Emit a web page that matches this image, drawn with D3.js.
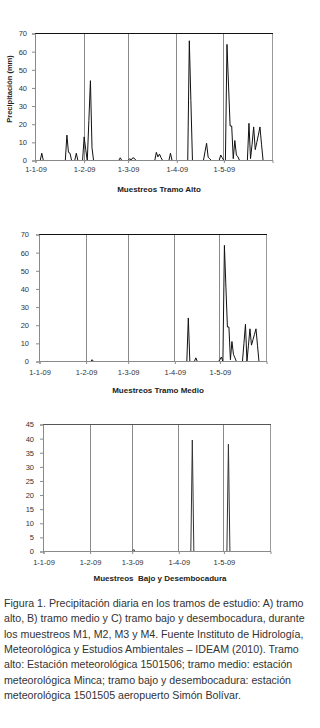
<!DOCTYPE html>
<html>
<head>
<meta charset="utf-8">
<script src="https://cdn.jsdelivr.net/npm/d3@7"></script>
<style>
  html, body { margin: 0; padding: 0; background: #fff; }
  svg { display: block; }
  text { font-family: "Liberation Sans", Arial, sans-serif; }
</style>
</head>
<body>
<svg id="chart" width="320" height="728"></svg>
<script>
// ---------- DATA ----------
const monthTicks = ["2009-01-01", "2009-02-01", "2009-03-01", "2009-04-01", "2009-05-01"];
const monthLabels = ["1-1-09", "1-2-09", "1-3-09", "1-4-09", "1-5-09"];
const domainDates = ["2009-01-01", "2009-06-01"];

// A) Tramo alto
const altoDates = ["2009-01-01","2009-01-04","2009-01-05","2009-01-06",
  "2009-01-20","2009-01-21","2009-01-22","2009-01-23","2009-01-24",
  "2009-01-26","2009-01-27","2009-01-28",
  "2009-01-31","2009-02-01","2009-02-02","2009-02-03","2009-02-04","2009-02-05","2009-02-06","2009-02-07",
  "2009-02-23","2009-02-24","2009-02-25",
  "2009-03-01","2009-03-02","2009-03-03","2009-03-04","2009-03-05","2009-03-06",
  "2009-03-18","2009-03-19","2009-03-20","2009-03-21","2009-03-22","2009-03-23",
  "2009-03-27","2009-03-28","2009-03-29",
  "2009-04-08","2009-04-09","2009-04-10","2009-04-11",
  "2009-04-18","2009-04-19","2009-04-20","2009-04-21","2009-04-22","2009-04-23",
  "2009-04-28","2009-04-29","2009-04-30","2009-05-01","2009-05-02","2009-05-03","2009-05-04","2009-05-05",
  "2009-05-06","2009-05-07","2009-05-08","2009-05-09","2009-05-10","2009-05-11",
  "2009-05-15","2009-05-16","2009-05-17","2009-05-18","2009-05-19","2009-05-20","2009-05-21",
  "2009-05-22","2009-05-23","2009-05-24","2009-05-25","2009-05-26"];
const altoValues = [0,0,4,0,
  0,14,4.5,4,0,
  0,4,0,
  0,13,6,0,22,44,7,0,
  0,1.5,0,
  0,1,0.3,1.5,1.2,0,
  0,4.5,2,3.5,1.5,0,
  0,4,0,
  0,66,33,0,
  0,4.8,9.5,1.8,1,0,
  0,3,1.5,0,0,64,41,19,
  19,1,11,3,2,0,
  0,0,20.5,1,9,18.5,6,
  10,14,18.5,9,0];

// B) Tramo medio
const medioDates = ["2009-01-01","2009-02-04","2009-02-05","2009-02-06",
  "2009-04-09","2009-04-10","2009-04-11",
  "2009-04-14","2009-04-15","2009-04-16",
  "2009-04-30","2009-05-01","2009-05-02","2009-05-03","2009-05-04","2009-05-05","2009-05-06","2009-05-07",
  "2009-05-08","2009-05-09","2009-05-10","2009-05-11","2009-05-12",
  "2009-05-16","2009-05-17","2009-05-18","2009-05-19","2009-05-20","2009-05-21","2009-05-22",
  "2009-05-23","2009-05-24","2009-05-25","2009-05-26","2009-05-27"];
const medioValues = [0,0,1,0,
  0,24,0,
  0,2,0,
  0,1,2.5,0,64,41,19,19,
  1,11,4,2,0,
  0,10,20.5,0,9,18,9,
  12,15,18,9,0];

// C) Tramo bajo y desembocadura
const bajoDates = ["2009-01-01","2009-03-01","2009-03-02","2009-03-03",
  "2009-04-09","2009-04-10","2009-04-11",
  "2009-05-03","2009-05-04","2009-05-05"];
const bajoValues = [0,0,0.7,0,
  0,39.5,0,
  0,38,0];

const yTicksAB = [0,10,20,30,40,50,60,70];
const yTicksC = [0,5,10,15,20,25,30,35,40,45];

const captionLines = [
  "Figura 1. Precipitación diaria en los tramos de estudio: A) tramo",
  "alto, B) tramo medio y C) tramo bajo y desembocadura, durante",
  "los muestreos M1, M2, M3 y M4. Fuente Instituto de Hidrología,",
  "Meteorológica y Estudios Ambientales – IDEAM (2010). Tramo",
  "alto: Estación meteorológica 1501506; tramo medio: estación",
  "meteorológica Minca; tramo bajo y desembocadura: estación",
  "meteorológica 1501505 aeropuerto Simón Bolívar."
];

// ---------- DRAW ----------
const parse = d3.timeParse("%Y-%m-%d");
const svg = d3.select("#chart");

function drawPanel(cfg) {
  const g = svg.append("g");
  const x = d3.scaleTime().domain(domainDates.map(parse)).range([cfg.x0 + 0.5, cfg.x1 + 0.5]);
  const y = d3.scaleLinear().domain([0, cfg.yMax]).range([cfg.y0 + 0.5, cfg.y1 + 0.5]);

  // vertical gridlines at month starts (except first)
  g.selectAll("line.grid").data(monthTicks.slice(1).map(parse)).enter()
    .append("line")
    .attr("x1", d => Math.round(x(d) - 0.5) + 0.5).attr("x2", d => Math.round(x(d) - 0.5) + 0.5)
    .attr("y1", cfg.y1).attr("y2", cfg.y0)
    .attr("stroke", "#8a8a8a").attr("stroke-width", 1);

  // right border
  g.append("line")
    .attr("x1", cfg.x1 + 0.5).attr("x2", cfg.x1 + 0.5)
    .attr("y1", cfg.y1).attr("y2", cfg.y0)
    .attr("stroke", "#9a9a9a");
  // top border
  g.append("line")
    .attr("x1", cfg.x0).attr("x2", cfg.x1 + 1)
    .attr("y1", cfg.y1 + 0.5).attr("y2", cfg.y1 + 0.5)
    .attr("stroke", cfg.topColor).attr("stroke-width", 1);

  // data line
  const pts = cfg.dates.map((d, i) => [parse(d), cfg.values[i]]);
  g.append("path")
    .datum(pts)
    .attr("fill", "none")
    .attr("stroke", cfg.lineColor)
    .attr("stroke-width", 1)
    .attr("stroke-linejoin", "miter")
    .attr("d", d3.line().x(d => x(d[0])).y(d => y(d[1])));

  // y axis (drawn over the line)
  const yAxis = d3.axisLeft(y).tickValues(cfg.yTicks).tickSize(3).tickPadding(cfg.yPad).tickFormat(d3.format("d"));
  const ya = g.append("g").attr("transform", `translate(${cfg.x0},0)`).call(yAxis);
  ya.select(".domain").attr("stroke", "#8a8a8a");
  ya.selectAll(".tick line").attr("stroke", "#8a8a8a");
  ya.selectAll(".tick text").attr("fill", "#333").style("font-size", "7.5px")
    .style("font-family", "'Liberation Sans', Arial, sans-serif");

  // x axis
  const xAxis = d3.axisBottom(x).tickValues(monthTicks.map(parse)).tickSize(3).tickPadding(cfg.xPad)
    .tickFormat((d, i) => monthLabels[i]);
  const xa = g.append("g").attr("transform", `translate(0,${cfg.y0})`).call(xAxis);
  xa.select(".domain").attr("stroke", "#8a8a8a");
  xa.selectAll(".tick line").attr("stroke", "#8a8a8a");
  xa.selectAll(".tick text").attr("fill", "#333").style("font-size", "7.5px")
    .style("font-family", "'Liberation Sans', Arial, sans-serif");

  // x title
  g.append("text")
    .attr("x", cfg.titleX).attr("y", cfg.titleY)
    .attr("text-anchor", "middle")
    .attr("fill", "#222")
    .style("font-size", "8px").style("font-weight", "bold")
    .attr("xml:space", "preserve")
    .text(cfg.title);

  if (cfg.yTitle) {
    g.append("text")
      .attr("transform", `translate(${cfg.yTitleX},${cfg.yTitleY}) rotate(-90)`)
      .attr("text-anchor", "middle")
      .attr("fill", "#222")
      .style("font-size", "7.5px").style("font-weight", "bold")
      .text(cfg.yTitle);
  }
}

drawPanel({
  x0: 35, x1: 272, y0: 160, y1: 33, yMax: 70, yTicks: yTicksAB, yPad: 5, xPad: 4,
  dates: altoDates, values: altoValues, lineColor: "#111", topColor: "#111",
  title: "Muestreos Tramo Alto", titleX: 159, titleY: 192,
  yTitle: "Precipitación (mm)", yTitleX: 12, yTitleY: 89
});

drawPanel({
  x0: 39, x1: 266, y0: 361, y1: 234, yMax: 70, yTicks: yTicksAB, yPad: 7, xPad: 6,
  dates: medioDates, values: medioValues, lineColor: "#111", topColor: "#111",
  title: "Muestreos Tramo Medio", titleX: 158, titleY: 393
});

drawPanel({
  x0: 43, x1: 270, y0: 551, y1: 424, yMax: 45, yTicks: yTicksC, yPad: 6, xPad: 6,
  dates: bajoDates, values: bajoValues, lineColor: "#333", topColor: "#555",
  title: "Muestreos  Bajo y Desembocadura", titleX: 160, titleY: 581
});

// caption: size chosen so the second line spans ~301px as in the reference
const cap = svg.append("text")
  .attr("fill", "#333")
  .style("font-size", "11px");
const tsp = cap.selectAll("tspan").data(captionLines).enter().append("tspan")
  .attr("x", 4)
  .attr("y", (d, i) => 607 + i * 15.3)
  .text(d => d);
const w2 = tsp.nodes()[1].getComputedTextLength();
if (w2 > 0) {
  const fs = 11 * 301 / w2;
  cap.style("font-size", fs.toFixed(2) + "px");
}
</script>
</body>
</html>
